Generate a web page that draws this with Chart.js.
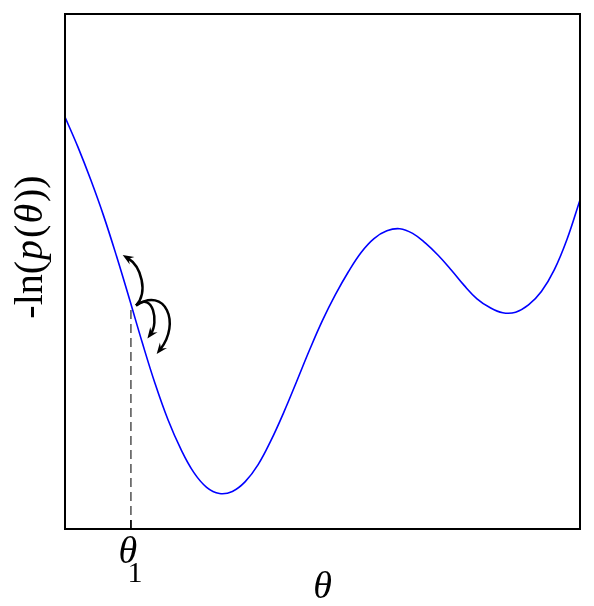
<!DOCTYPE html>
<html>
<head>
<meta charset="utf-8">
<script src="https://cdn.jsdelivr.net/npm/chart.js@4.4.1/dist/chart.umd.min.js"></script>
<style>
  html, body { margin: 0; padding: 0; background: #fff; }
  #wrap { width: 594px; height: 606px; }
</style>
</head>
<body>
<div id="wrap"><canvas id="energyChart" width="594" height="606"></canvas></div>
<script>
// ---- data ----
const thetaValues = [0, 0.25, 0.5, 0.75, 1, 1.25, 1.5, 1.75, 2, 2.25, 2.5, 2.75, 3, 3.25, 3.5, 3.75,
  4, 4.25, 4.5, 4.75, 5, 5.25, 5.5, 5.75, 6, 6.25, 6.5, 6.75, 7, 7.25, 7.5, 7.75,
  8, 8.25, 8.5, 8.75, 9, 9.25, 9.5, 9.75, 10];
const negLogP = [8.00, 7.42, 6.78, 6.08, 5.30, 4.47, 3.62, 2.82, 2.12, 1.55, 1.10, 0.81, 0.69, 0.73, 0.92, 1.25,
  1.72, 2.27, 2.87, 3.48, 4.05, 4.55, 4.99, 5.37, 5.64, 5.79, 5.83, 5.74, 5.55, 5.31, 5.03, 4.73,
  4.47, 4.30, 4.20, 4.21, 4.35, 4.61, 5.03, 5.63, 6.39];
const theta1 = 1.28;
const theta1Value = 4.3;
const xLabel = 'θ';

// ---- proposal arrows (data coords), each a bezier: start, c1, c2, end ----
const arrowPaths = [
  [[1.38, 4.34], [1.62, 4.60], [1.48, 5.10], [1.12, 5.32]],
  [[1.38, 4.34], [1.72, 4.62], [1.82, 4.00], [1.60, 3.70]],
  [[1.38, 4.34], [1.95, 4.72], [2.25, 4.00], [1.78, 3.40]]
];

const SERIF = '"Liberation Serif", "DejaVu Serif", serif';

const framePlugin = {
  id: 'frame',
  afterDraw(chart) {
    const { ctx, chartArea: a, scales } = chart;
    const xs = scales.x, ys = scales.y;
    ctx.save();

    // frame
    ctx.strokeStyle = '#000';
    ctx.lineWidth = 2;
    ctx.strokeRect(a.left, a.top, a.right - a.left, a.bottom - a.top);

    // theta_1 tick
    const tx = xs.getPixelForValue(theta1);
    ctx.lineWidth = 1.5;
    ctx.beginPath();
    ctx.moveTo(tx, a.bottom);
    ctx.lineTo(tx, a.bottom - 9);
    ctx.stroke();

    // arrows
    ctx.lineWidth = 2.5;
    ctx.fillStyle = '#000';
    arrowPaths.forEach(p => {
      const pts = p.map(q => [xs.getPixelForValue(q[0]), ys.getPixelForValue(q[1])]);
      const ang = Math.atan2(pts[3][1] - pts[2][1], pts[3][0] - pts[2][0]);
      const L = 11, W = 4.5;
      ctx.beginPath();
      ctx.moveTo(pts[0][0], pts[0][1]);
      ctx.bezierCurveTo(pts[1][0], pts[1][1], pts[2][0], pts[2][1],
        pts[3][0] - 6 * Math.cos(ang), pts[3][1] - 6 * Math.sin(ang));
      ctx.stroke();
      ctx.beginPath();
      ctx.moveTo(pts[3][0], pts[3][1]);
      ctx.lineTo(pts[3][0] - L * Math.cos(ang) + W * Math.sin(ang), pts[3][1] - L * Math.sin(ang) - W * Math.cos(ang));
      ctx.lineTo(pts[3][0] - 7 * Math.cos(ang), pts[3][1] - 7 * Math.sin(ang));
      ctx.lineTo(pts[3][0] - L * Math.cos(ang) - W * Math.sin(ang), pts[3][1] - L * Math.sin(ang) + W * Math.cos(ang));
      ctx.closePath();
      ctx.fill();
    });

    // labels
    ctx.fillStyle = '#000';
    ctx.textAlign = 'center';
    ctx.textBaseline = 'alphabetic';
    ctx.font = 'italic 38px ' + SERIF;
    ctx.fillText('θ', tx - 3, 563);
    ctx.font = '30px ' + SERIF;
    ctx.fillText('1', tx + 4, 582);
    ctx.font = 'italic 38px ' + SERIF;
    ctx.fillText(xLabel, (a.left + a.right) / 2, 598);

    // y label, rotated, with p and theta italic
    ctx.translate(42, 247);
    ctx.rotate(-Math.PI / 2);
    const parts = [['-ln(', false], ['p', true], ['(', false], ['θ', true], ['))', false]];
    const fontFor = it => (it ? 'italic ' : '') + '40px ' + SERIF;
    let total = 0;
    parts.forEach(s => { ctx.font = fontFor(s[1]); total += ctx.measureText(s[0]).width + (s[1] ? 3 : 0); });
    let x0 = -total / 2;
    ctx.textAlign = 'left';
    parts.forEach(s => {
      ctx.font = fontFor(s[1]);
      ctx.fillText(s[0], x0 + (s[1] ? 1 : 0), 0);
      x0 += ctx.measureText(s[0]).width + (s[1] ? 3 : 0);
    });
    ctx.restore();
  }
};

new Chart(document.getElementById('energyChart'), {
  type: 'line',
  data: {
    datasets: [
      {
        data: thetaValues.map((t, i) => ({ x: t, y: negLogP[i] })),
        borderColor: '#0000ff',
        borderWidth: 1.6,
        pointRadius: 0,
        tension: 0.4,
        fill: false
      },
      {
        data: [{ x: theta1, y: 0 }, { x: theta1, y: theta1Value }],
        borderColor: '#444',
        borderWidth: 1.4,
        borderDash: [9, 5],
        pointRadius: 0,
        fill: false
      }
    ]
  },
  options: {
    responsive: false,
    animation: false,
    layout: { padding: { left: 65, right: 14, top: 14, bottom: 77 } },
    plugins: { legend: { display: false }, tooltip: { enabled: false } },
    scales: {
      x: { type: 'linear', min: 0, max: 10, display: false },
      y: { type: 'linear', min: 0, max: 10, display: false }
    }
  },
  plugins: [framePlugin]
});
</script>
</body>
</html>
